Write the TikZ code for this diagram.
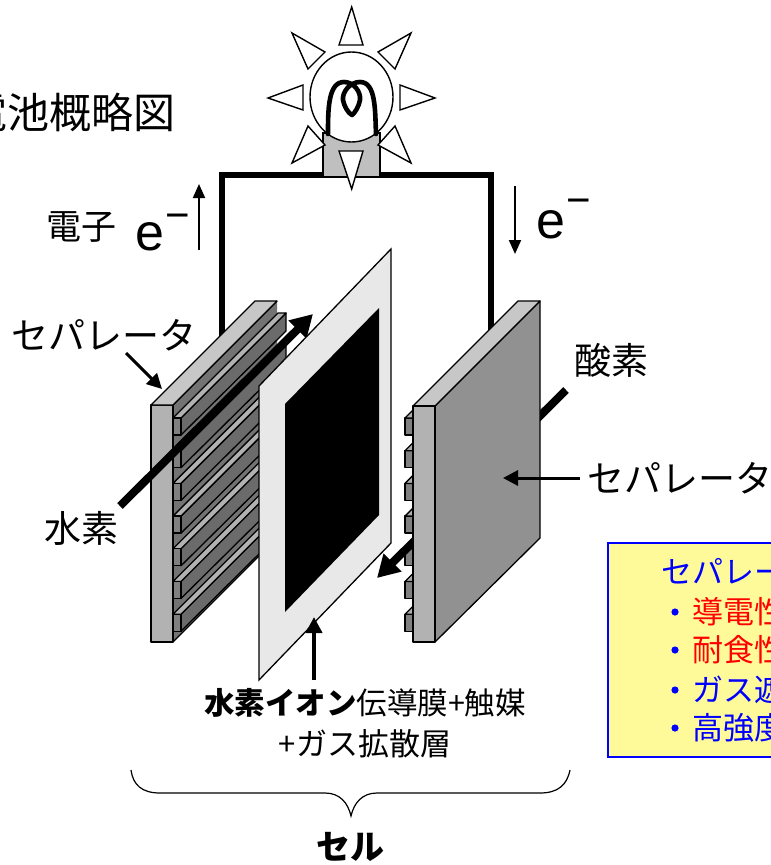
\documentclass[tikz,border=0pt]{standalone}
\usepackage{fontspec}
\setmainfont{Noto Sans CJK JP}
\newfontfamily\latinf{Liberation Sans}
\definecolor{blueb}{RGB}{0,0,255}
\usetikzlibrary{arrows.meta}
\tikzset{
 px/.style={x=1pt,y=-1pt},
 ray/.style={draw=black,fill=white,line width=1.4pt,line join=miter},
 plate/.style={draw=black,line width=1.3pt,line join=round},
 bigarrow/.style={line width=8pt,-{Triangle[length=22pt,width=24pt]}},
 thinarrow/.style={line width=3pt,-{Triangle[length=15pt,width=15pt]}},
 earrow/.style={line width=2pt,-{Triangle[length=14pt,width=12pt]}},
 wire/.style={line width=6.5pt},
 jp/.style={inner sep=0pt,anchor=west,font=\fontsize{37}{39}\selectfont},
 boxtxt/.style={inner sep=0pt,anchor=west,font=\fontsize{31}{33}\selectfont},
 ebig/.style={inner sep=0pt,anchor=base west,font=\latinf\fontsize{52}{54}\selectfont},
 eminus/.style={inner sep=0pt,anchor=base west,font=\latinf\fontsize{42}{44}\selectfont},
}
\begin{document}
\begin{tikzpicture}[px]
\useasboundingbox (0,0) rectangle (771,865);
\clip (0,0) rectangle (771,865);
% title
\node[jp,anchor=east,font=\fontsize{42}{44}\selectfont] (title) at (176,112) {燃料電池概略図};
% wires
\coordinate (wl) at (222,340);
\coordinate (wtl) at (222,175);
\coordinate (wtr) at (491,175);
\coordinate (wr) at (491,335);
\draw[wire,line join=miter] (wl) -- (wtl) -- (wtr) -- (wr);
% bulb
\draw[draw=black,fill=black!25,line width=1.2pt] (323,133) rectangle (380,177);
\draw[black,fill=white,line width=1.4pt] (351.5,97) ellipse (41.5 and 45);
\draw[line width=4.6pt,line cap=round,line join=round] (328,134) .. controls (328,110) and (328,82) .. (344,82)
  .. controls (354,82) and (361,92) .. (360,100) .. controls (359,106) and (355,113) .. (352,115)
  .. controls (348,113) and (344,106) .. (343,100) .. controls (342,92) and (350,82) .. (360,82)
  .. controls (376,82) and (375,110) .. (376,134);
\draw[ray] (351.7,7) -- (339,45) -- (363,45) -- cycle;
\draw[ray] (351.7,189) -- (339,151) -- (363,151) -- cycle;
\draw[ray] (268,98) -- (303,85) -- (303,110) -- cycle;
\draw[ray] (435,98) -- (400,85) -- (400,110) -- cycle;
\draw[ray] (292,33) -- (325,52) -- (308,69) -- cycle;
\draw[ray] (411,33) -- (378,52) -- (395,69) -- cycle;
\draw[ray] (292,163) -- (308,126) -- (325,145) -- cycle;
\draw[ray] (411,163) -- (395,126) -- (378,145) -- cycle;
% left separator
\fill[black!55] (173,405) -- (277,301) -- (277,538) -- (173,642) -- cycle;
\draw[plate] (173,405) -- (277,301) (173,642) -- (277,538);
\foreach \i in {0,...,6}{
  \begin{scope}[yshift=-\i*32.7pt]
   \draw[plate,fill=black!58] (181,418) -- (286,313) -- (286,331) -- (181,435) -- cycle;
   \draw[plate,fill=black!30] (173,418) -- (181,418) -- (286,313) -- (278,313) -- cycle;
   \draw[plate,fill=black!50] (173,418) rectangle (181,435);
  \end{scope}
}
\draw[plate,fill=black!30] (151,405) -- (173,405) -- (173,642) -- (151,642) -- cycle;
\draw[plate,fill=black!22] (151,405) -- (255,301) -- (277,301) -- (173,405) -- cycle;
% hydrogen arrow
\coordinate (hs) at (120,506);
\coordinate (he) at (313,314);
\draw[bigarrow] (hs) -- (he);
% membrane
\draw[plate,fill=black!9,line join=miter] (259,386) -- (391,249) -- (391,543) -- (259,680) -- cycle;
\fill[black] (285,404) -- (379,308) -- (379,515) -- (285,612) -- cycle;
% right separator ridges
\foreach \i in {0,...,6}{
  \begin{scope}[yshift=-\i*32.7pt]
   \draw[plate,fill=black!50] (405,418) rectangle (413,435);
   \draw[plate,fill=black!32] (405,418) -- (413,410) -- (413,418) -- cycle;
  \end{scope}
}
% oxygen arrow
\coordinate (os) at (566,390);
\coordinate (oe) at (377,578);
\draw[bigarrow] (os) -- (oe);
% right separator
\draw[plate,fill=black!43] (435,406) -- (540,301) -- (540,538) -- (435,642) -- cycle;
\draw[plate,fill=black!22] (413,406) -- (518,301) -- (540,301) -- (435,406) -- cycle;
\draw[plate,fill=black!30] (413,406) rectangle (435,642);
% labels
\coordinate (a1s) at (199,250); \coordinate (a1e) at (199,184);
\coordinate (a2s) at (515,186); \coordinate (a2e) at (515,254);
\draw[earrow] (a1s) -- (a1e);
\draw[earrow] (a2s) -- (a2e);
\node[jp,font=\fontsize{35}{37}\selectfont] (den) at (46,227) {電子};
\node[ebig] (e1) at (135,250) {e};
\node[eminus] (m1) at (165,229) {−};
\node[ebig] (e2) at (536,238) {e};
\node[eminus] (m2) at (566,214) {−};
\node[jp] (s1) at (11,335) {セパレータ};
\node[jp] (s2) at (587,478) {セパレータ};
\node[jp] (sui) at (44,528) {水素};
\node[jp] (san) at (574,360) {酸素};
\coordinate (p1) at (126,353); \coordinate (p2) at (162,389);
\draw[thinarrow] (p1) -- (p2);
\coordinate (p3) at (580,478); \coordinate (p4) at (503,478);
\draw[thinarrow] (p3) -- (p4);
\coordinate (p5) at (314,680); \coordinate (p6) at (314,617);
\draw[line width=4pt,-{Triangle[length=16pt,width=16pt]}] (p5) -- (p6);
\node[inner sep=0pt,font=\fontsize{30.5}{32}\selectfont] (mem) at (365,703) {\textbf{水素イオン}伝導膜+触媒};
\node[inner sep=0pt,font=\fontsize{31}{33}\selectfont] (mem2) at (365,744) {+ガス拡散層};
\node[inner sep=0pt,font=\fontsize{34}{36}\selectfont\bfseries] (cell) at (350,847) {セル};
% brace
\draw[line width=1.2pt] (131,770) .. controls (133,785) and (142,793) .. (160,793) -- (325,793)
  .. controls (340,793) and (348,803) .. (351,816) .. controls (354,803) and (362,793) .. (377,793)
  -- (540,793) .. controls (558,793) and (567,785) .. (570,770);
% box
\draw[draw=blueb,fill=yellow!40,line width=1.3pt] (608,543) rectangle (800,757);
\node[boxtxt,text=blueb] (b0) at (661,572) {セパレータ};
\foreach \y/\n/\c/\t in {612/b1/red/導電性,650/b2/red/耐食性,690/b3/blueb/ガス遮断性,728/b4/blueb/高強度}{
  \fill[blueb] (675,\y) circle (3.6);
  \node[boxtxt,text=\c] (\n) at (692,\y) {\t};
}
\end{tikzpicture}
\end{document}
